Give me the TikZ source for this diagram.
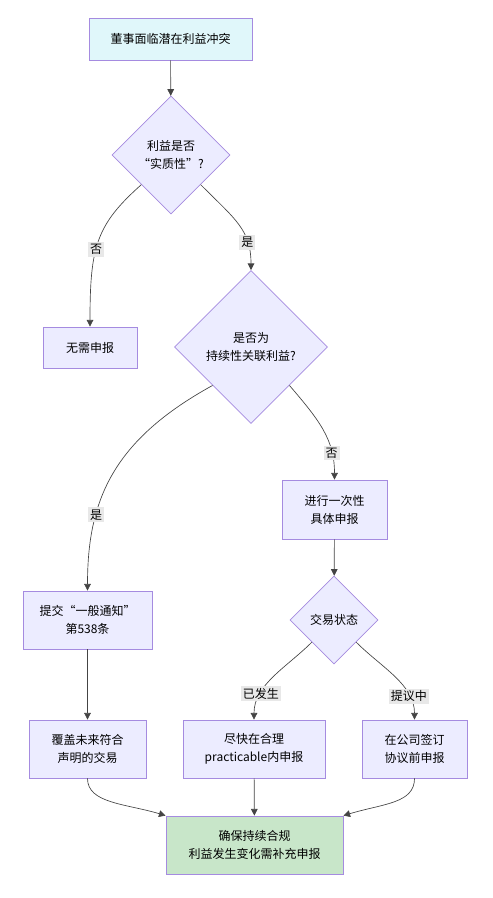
\documentclass[tikz,border=0pt]{standalone}
\usepackage{fontspec}
\setmainfont{Noto Sans CJK SC}
\usetikzlibrary{shapes.geometric,arrows.meta}
\definecolor{nodefill}{HTML}{ECECFF}
\definecolor{nodeline}{HTML}{A58BE0}
\definecolor{startfill}{HTML}{E0F7FA}
\definecolor{endfill}{HTML}{C8E6C9}
\definecolor{edgegray}{HTML}{444444}
\definecolor{labelgray}{HTML}{E8E8E8}

\tikzset{
  box/.style={draw=nodeline, fill=nodefill, line width=0.6pt, align=center,
    inner sep=0pt, font=\fontsize{9}{13.5}\selectfont},
  decision/.style={box, diamond, aspect=1},
  flow/.style={draw=edgegray, line width=0.5pt, -{Triangle[length=5pt,width=5pt]}},
  tag/.style={fill=labelgray, inner sep=1.5pt, font=\fontsize{9}{11}\selectfont},
}

\begin{document}
\begin{tikzpicture}[x=0.75pt,y=-0.75pt]
\useasboundingbox (0,0) rectangle (492,898);

% Start
\node[box, fill=startfill, minimum width=122.25pt, minimum height=31.5pt] (start) at (170.5,39) {董事面临潜在利益冲突};

% Decisions
\node[decision, minimum size=88.5pt] (material) at (171,155) {利益是否\\“实质性”?};
\node[decision, minimum size=114.75pt] (ongoing) at (251,347) {是否为\\持续性关联利益?};
\node[decision, minimum size=66pt] (status) at (334,620) {交易状态};

% Boxes
\node[box, minimum width=70.5pt, minimum height=30.75pt] (none) at (90,347.5) {无需申报};
\node[box, minimum width=78.75pt, minimum height=44.25pt] (once) at (334.5,509.5) {进行一次性\\具体申报};
\node[box, minimum width=96.75pt, minimum height=43.5pt] (notice) at (87.5,620) {提交“一般通知”\\第538条};
\node[box, minimum width=87.75pt, minimum height=43.5pt] (cover) at (87.5,749) {覆盖未来符合\\声明的交易};
\node[box, minimum width=106.5pt, minimum height=43.5pt] (asap) at (254,749) {尽快在合理\\practicable内申报};
\node[box, minimum width=78.75pt, minimum height=43.5pt] (sign) at (414.5,749) {在公司签订\\协议前申报};

% End
\node[box, fill=endfill, minimum width=132.75pt, minimum height=43.5pt] (final) at (254.5,845) {确保持续合规\\利益发生变化需补充申报};

% Connectors
\draw[flow] (start) -- (material);
\draw[flow] (material.south west) .. controls +(-45,40) and +(0,-80) .. node[tag, pos=0.57] {否} (none.north);
\draw[flow] (material.south east) .. controls +(35,35) and +(0,-40) .. node[tag, pos=0.72] {是} (ongoing.north);
\draw[flow] (ongoing.south west) .. controls +(-100,55) and +(0,-90) .. node[tag, pos=0.69] {是} (notice.north);
\draw[flow] (ongoing.south east) .. controls +(30,35) and +(0,-40) .. node[tag, pos=0.75] {否} (once.north);
\draw[flow] (once) -- (status);
\draw[flow] (status.south west) .. controls +(-25,25) and +(0,-35) .. node[tag, pos=0.72] {已发生} (asap.north);
\draw[flow] (status.south east) .. controls +(25,25) and +(0,-35) .. node[tag, pos=0.75] {提议中} (sign.north);
\draw[flow] (notice) -- (cover);
\draw[flow] (cover.south) .. controls +(0,25) and +(-40,-12) .. (final.north west);
\draw[flow] (asap) -- (final);
\draw[flow] (sign.south) .. controls +(0,25) and +(40,-12) .. (final.north east);
\end{tikzpicture}
\end{document}
